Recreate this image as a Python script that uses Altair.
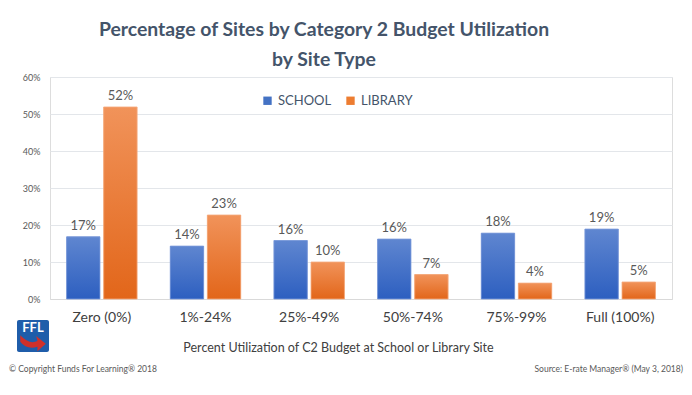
import altair as alt
import pandas as pd

categories = ["Zero (0%)", "1%-24%", "25%-49%", "50%-74%", "75%-99%", "Full (100%)"]
school = [16.8, 14.3, 15.8, 16.2, 17.8, 18.9]
library = [51.9, 22.7, 10.0, 6.6, 4.3, 4.6]
types = ["SCHOOL", "LIBRARY"]

rows = []
for c, s, l in zip(categories, school, library):
    rows.append({"category": c, "type": "SCHOOL", "value": s})
    rows.append({"category": c, "type": "LIBRARY", "value": l})
df = pd.DataFrame(rows)

FONT = "Lato"
TEXT = "#595959"

x_enc = alt.X("category:N", sort=categories,
              scale=alt.Scale(paddingInner=0.32, paddingOuter=0.16),
              axis=alt.Axis(title="Percent Utilization of C2 Budget at School or Library Site",
                            labelFontSize=14, labelColor="#404040", labelPadding=11,
                            labelAngle=0, ticks=False, domainColor="#D9D9D9",
                            titleFontSize=12.5, titleFontWeight="normal", titleColor="#404040",
                            titleX=288, titleY=48, titleBaseline="middle", titleFont=FONT, labelFont=FONT))
xo_enc = alt.XOffset("type:N", sort=types, scale=alt.Scale(domain=types, paddingInner=0.1))
y_enc = alt.Y("value:Q", scale=alt.Scale(domain=[0, 60]),
              axis=alt.Axis(title=None, values=[0, 10, 20, 30, 40, 50, 60],
                            labelExpr="datum.value + '%'", labelFontSize=9, labelColor=TEXT,
                            labelPadding=10, ticks=False, domain=False, gridColor="#E3E6EA",
                            labelFont=FONT))

base = alt.Chart(df)

legend_bars = base.mark_bar().encode(
    x=x_enc, xOffset=xo_enc, y=y_enc,
    color=alt.Color("type:N", sort=types,
                    scale=alt.Scale(domain=types, range=["#4472C4", "#ED7D31"]),
                    legend=alt.Legend(title=None, orient="none", direction="horizontal",
                                      legendX=211, legendY=17, symbolType="square",
                                      symbolSize=70, labelFontSize=13, labelColor="#44546A",
                                      labelFont=FONT, columnPadding=12, labelOffset=4,
                                      symbolStrokeWidth=0)),
)

def grad(top, bottom):
    return alt.Gradient(gradient="linear", x1=0, x2=0, y1=0, y2=1,
                        stops=[alt.GradientStop(color=top, offset=0),
                               alt.GradientStop(color=bottom, offset=1)])

school_bars = base.transform_filter(alt.datum.type == "SCHOOL").mark_bar(
    color=grad("#5F86D0", "#2D5FC0"), stroke="#7C9BDA", strokeWidth=0.8
).encode(x=x_enc, xOffset=xo_enc, y=y_enc)

library_bars = base.transform_filter(alt.datum.type == "LIBRARY").mark_bar(
    color=grad("#F1935A", "#E2661A"), stroke="#F5AC80", strokeWidth=0.8
).encode(x=x_enc, xOffset=xo_enc, y=y_enc)

labels = base.transform_calculate(
    label="format(datum.value, '.0f') + '%'"
).mark_text(dy=-11, fontSize=13, color=TEXT, font=FONT).encode(
    x=x_enc, xOffset=xo_enc, y=y_enc, text="label:N")

foot = pd.DataFrame({"t": ["\u00a9 Copyright Funds For Learning\u00ae 2018"]})
copyright_t = alt.Chart(foot).mark_text(align="left", fontSize=8.5, color=TEXT, font=FONT).encode(
    x=alt.value(-41), y=alt.value(292), text="t:N")
src = pd.DataFrame({"t": ["Source: E-rate Manager\u00ae (May 3, 2018)"]})
source_t = alt.Chart(src).mark_text(align="right", fontSize=8.5, color=TEXT, font=FONT).encode(
    x=alt.value(633), y=alt.value(292), text="t:N")

logo_df = pd.DataFrame({"t": ["FFL"]})
logo_box = alt.Chart(logo_df).mark_rect(color="#1F5DAA", cornerRadius=2).encode(
    x=alt.value(-33), x2=alt.value(-1), y=alt.value(243), y2=alt.value(275))
logo_txt = alt.Chart(logo_df).mark_text(color="white", fontSize=13, fontWeight="bold",
                                        font=FONT).encode(
    x=alt.value(-17), y=alt.value(251), text="t:N")
logo_arrow = alt.Chart(logo_df).mark_point(
    shape="M-1,-0.6 Q-0.3,0.15 0.35,-0.15 L0.25,-0.55 L1,0.05 L0.35,0.65 L0.35,0.3 Q-0.5,0.55 -1,-0.1 Z",
    filled=True, color="#D0302A", opacity=1, size=650).encode(
    x=alt.value(-17), y=alt.value(266))

chart = alt.layer(
    legend_bars, school_bars, library_bars, labels,
    copyright_t, source_t, logo_box, logo_txt, logo_arrow
).properties(
    width=622, height=222,
    autosize=alt.AutoSizeParams(type="none"),
    padding={"left": 42, "top": 69, "right": 12, "bottom": 88},
    title=alt.TitleParams(
        ["Percentage of Sites by Category 2 Budget Utilization", "by Site Type"],
        fontSize=19.4, font=FONT, fontWeight="bold", color="#44546A",
        anchor="middle", frame="group", lineHeight=30, offset=3, dx=-37),
).configure_view(stroke=None).configure(background="white")

chart.save("out.html", embed_options={"renderer": "svg", "actions": False})
